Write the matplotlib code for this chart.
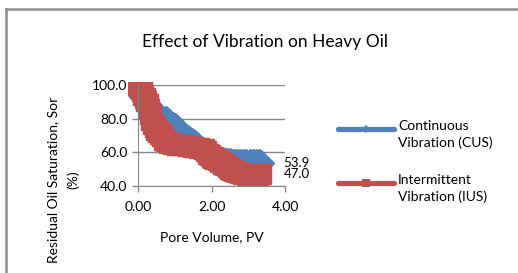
import matplotlib
matplotlib.use('Agg')
import matplotlib.pyplot as plt
from matplotlib.lines import Line2D
from matplotlib.patches import Rectangle

plt.rcParams['font.family'] = ['Lato', 'DejaVu Sans']

# Continuous vibration (CUS)
cus_pv = [0.00, 0.05, 0.10, 0.16, 0.21, 0.25, 0.29, 0.33, 0.37, 0.40, 0.45, 0.49,
          0.55, 0.60, 0.68, 0.76, 0.82, 0.88, 0.94, 1.00, 1.05, 1.10, 1.14, 1.17,
          1.23, 1.30, 1.36, 1.41, 1.46, 1.50, 1.54, 1.58, 1.64, 1.70, 1.76, 1.82,
          1.88, 1.95, 2.02, 2.10, 2.16, 2.23, 2.30, 2.36, 2.43, 2.50, 2.58, 2.65,
          2.72, 2.80, 2.88, 2.95, 3.05, 3.12, 3.20, 3.28, 3.35]
cus_sor = [96.0, 95.0, 94.0, 92.0, 90.5, 89.5, 88.0, 87.0, 85.5, 84.0, 82.5, 81.4,
           81.0, 80.5, 80.0, 79.6, 78.5, 77.5, 76.5, 75.4, 74.2, 73.0, 71.8, 70.6,
           69.8, 69.0, 68.3, 67.6, 66.8, 66.0, 65.3, 64.6, 63.5, 62.5, 61.5, 60.5,
           59.5, 58.5, 57.8, 57.0, 56.3, 55.6, 55.3, 55.0, 54.8, 54.6, 54.5, 54.5,
           54.4, 54.4, 54.4, 54.4, 54.3, 54.2, 54.1, 54.0, 53.9]

# Intermittent vibration (IUS)
ius_pv = [0.00, 0.03, 0.06, 0.10, 0.14, 0.18, 0.22, 0.27, 0.30, 0.33, 0.36, 0.40,
          0.45, 0.50, 0.55, 0.60, 0.65, 0.70, 0.75, 0.85, 0.95, 1.06, 1.20, 1.35,
          1.50, 1.65, 1.80, 1.85, 1.90, 1.95, 2.00, 2.05, 2.10, 2.17, 2.23, 2.30,
          2.37, 2.44, 2.50, 2.56, 2.62, 2.70, 2.78, 2.86, 2.94, 3.00, 3.08, 3.15,
          3.22, 3.27, 3.35]
ius_sor = [100.0, 99.5, 98.5, 96.5, 94.0, 92.0, 90.5, 88.5, 86.0, 82.5, 79.5, 77.0,
           75.0, 73.5, 72.0, 71.0, 69.5, 67.5, 66.5, 65.5, 65.0, 64.6, 64.2, 63.8,
           63.4, 62.8, 61.8, 60.5, 59.3, 58.2, 57.5, 56.8, 56.2, 55.3, 54.4, 53.3,
           52.2, 51.0, 50.2, 49.4, 48.8, 48.1, 47.6, 47.2, 47.0, 46.8, 46.7, 46.6,
           46.6, 46.6, 47.0]

blue = '#4F81BD'
red = '#C0504D'
grey = '#868686'

fig = plt.figure(figsize=(5.18, 2.73), dpi=100)
ax = fig.add_axes([138/518, 1 - 186/273, 147/518, 101/273])

clip = Rectangle((-0.07, -0.05), 1.2, 1.08, transform=ax.transAxes,
                 facecolor='none', edgecolor='none')
ax.add_patch(clip)

l1, = ax.plot(cus_pv, cus_sor, color=blue, lw=8, marker='D', ms=13, mec=blue,
              mfc=blue, solid_joinstyle='round')
l2, = ax.plot(ius_pv, ius_sor, color=red, lw=8, marker='s', ms=14, mec=red,
              mfc=red, solid_joinstyle='round')
l1.set_clip_path(clip)
l2.set_clip_path(clip)

# end-point labels
ax.annotate(f'{cus_sor[-1]:.1f}', (cus_pv[-1], cus_sor[-1]), xytext=(16, 0),
            textcoords='offset points', va='center', ha='left', fontsize=9.5,
            annotation_clip=False)
ax.annotate(f'{ius_sor[-1]:.1f}', (ius_pv[-1], ius_sor[-1]), xytext=(16, 0),
            textcoords='offset points', va='center', ha='left', fontsize=9.5,
            annotation_clip=False)

ax.set_xlim(0, 4)
ax.set_ylim(40, 100)
ax.set_xticks([0, 2, 4])
ax.set_xticklabels(['0.00', '2.00', '4.00'])
ax.set_yticks([40, 60, 80, 100])
ax.set_yticklabels(['40.0', '60.0', '80.0', '100.0'])
ax.tick_params(labelsize=10, colors=grey, labelcolor='black', length=4, width=1)
ax.tick_params(axis='x', pad=7)
ax.yaxis.grid(True, color=grey, lw=1)
ax.set_axisbelow(True)
for s in ['top', 'right']:
    ax.spines[s].set_visible(False)
for s in ['left', 'bottom']:
    ax.spines[s].set_color(grey)

ax.set_xlabel('Pore Volume, PV', fontsize=10, labelpad=13)

fig.text(265/518, 1 - 42/273, 'Effect of Vibration on Heavy Oil', fontsize=12.5,
         ha='center', va='center')
fig.text(63/518, 1 - 180/273, 'Residual Oil Saturation, Sor\n(%)', fontsize=10,
         rotation=90, ha='center', va='center', multialignment='center',
         linespacing=1.75)

# legend drawn by hand so the handle sits on the first text line
labels = ['Continuous\nVibration (CUS)', 'Intermittent\nVibration (IUS)']
for y, c, m, s, lab in [(129, blue, 'D', 4, labels[0]), (183, red, 's', 6, labels[1])]:
    fy = 1 - y / 273
    fig.add_artist(Line2D([338/518, 394/518], [fy, fy], transform=fig.transFigure,
                          color=c, lw=3.8, solid_capstyle='round'))
    fig.add_artist(Line2D([366/518], [fy], transform=fig.transFigure, color=c,
                          marker=m, ms=s, mew=0, lw=0))
    fig.text(398/518, 1 - (y - 9) / 273, lab, fontsize=10, ha='left', va='top',
             linespacing=1.45)

# chart border (top and left visible)
fig.add_artist(Line2D([6/518, 6/518], [0, 1 - 9/273], transform=fig.transFigure,
                      color='#8c8c8c', lw=1.8))
fig.add_artist(Line2D([6/518, 1], [1 - 9/273, 1 - 9/273], transform=fig.transFigure,
                      color='#8c8c8c', lw=1.8))

fig.savefig('out.png', dpi=100)
